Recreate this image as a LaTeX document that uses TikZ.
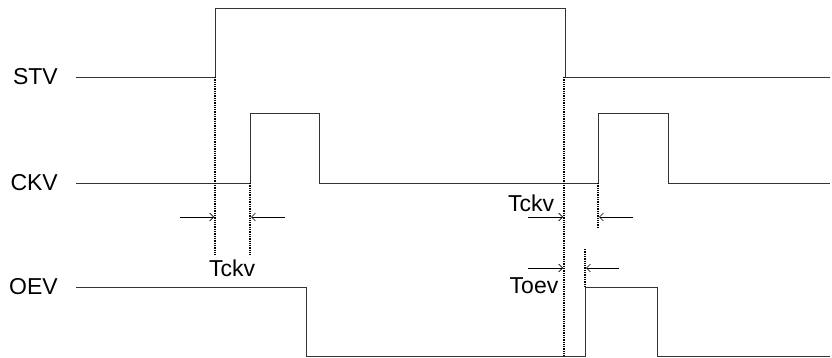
\documentclass[tikz,border=0pt]{standalone}
\usepackage{fontspec}
\setmainfont{Liberation Sans}
\usetikzlibrary{arrows.meta}

\begin{document}
\begin{tikzpicture}[x=1pt, y=-1pt,
	wave/.style={line width=0.9pt, black!80},
	guide/.style={densely dotted, line width=1.3pt},
	gap/.style={-{Straight Barb[length=4pt,width=8pt]}, line width=0.6pt},
	sig/.style={anchor=east, inner sep=0pt, font=\fontsize{23}{26}\selectfont},
	tlabel/.style={inner sep=0pt, font=\fontsize{23}{26}\selectfont}]

	\useasboundingbox (0,0) rectangle (832,358);

	\def \xs {76};
	\def \xe {830};

	% signal names
	\node[sig] (stv) at (58,77) {STV};
	\node[sig] (ckv) at (58,183) {CKV};
	\node[sig] (oev) at (58,287) {OEV};

	% waveforms
	\draw[wave] (\xs,77) -- (215,77) -- (215,8) -- (565,8) -- (565,77) -- (\xe,77);
	\draw[wave] (\xs,183) -- (250,183) -- (250,113) -- (319,113) -- (319,183)
		-- (598,183) -- (598,113) -- (668,113) -- (668,183) -- (\xe,183);
	\draw[wave] (\xs,287) -- (306,287) -- (306,356) -- (585,356) -- (585,287)
		-- (657,287) -- (657,356) -- (\xe,356);

	% timing guides
	\coordinate (g1t) at (215,77);  \coordinate (g1b) at (215,255);
	\coordinate (g2t) at (250,183); \coordinate (g2b) at (250,255);
	\coordinate (g3t) at (564,77);  \coordinate (g3b) at (564,356);
	\coordinate (g4t) at (598,183); \coordinate (g4b) at (598,227);
	\coordinate (g5t) at (585,249); \coordinate (g5b) at (585,287);
	\foreach \g in {1,...,5} {
		\draw[guide] (g\g t) -- (g\g b);
	}

	% gap arrows
	\coordinate (a1) at (180,217); \coordinate (b1) at (214,217);
	\coordinate (a2) at (285,217); \coordinate (b2) at (251,217);
	\coordinate (a3) at (528,217); \coordinate (b3) at (563,217);
	\coordinate (a4) at (633,217); \coordinate (b4) at (599,217);
	\coordinate (a5) at (528,268); \coordinate (b5) at (563,268);
	\coordinate (a6) at (619,268); \coordinate (b6) at (586,268);
	\foreach \k in {1,...,6} {
		\draw[gap] (a\k) -- (b\k);
	}

	\node[tlabel] (tck1) at (232,268) {Tckv};
	\node[tlabel] (tck2) at (531,203) {Tckv};
	\node[tlabel] (toev) at (534,286) {Toev};
\end{tikzpicture}
\end{document}
